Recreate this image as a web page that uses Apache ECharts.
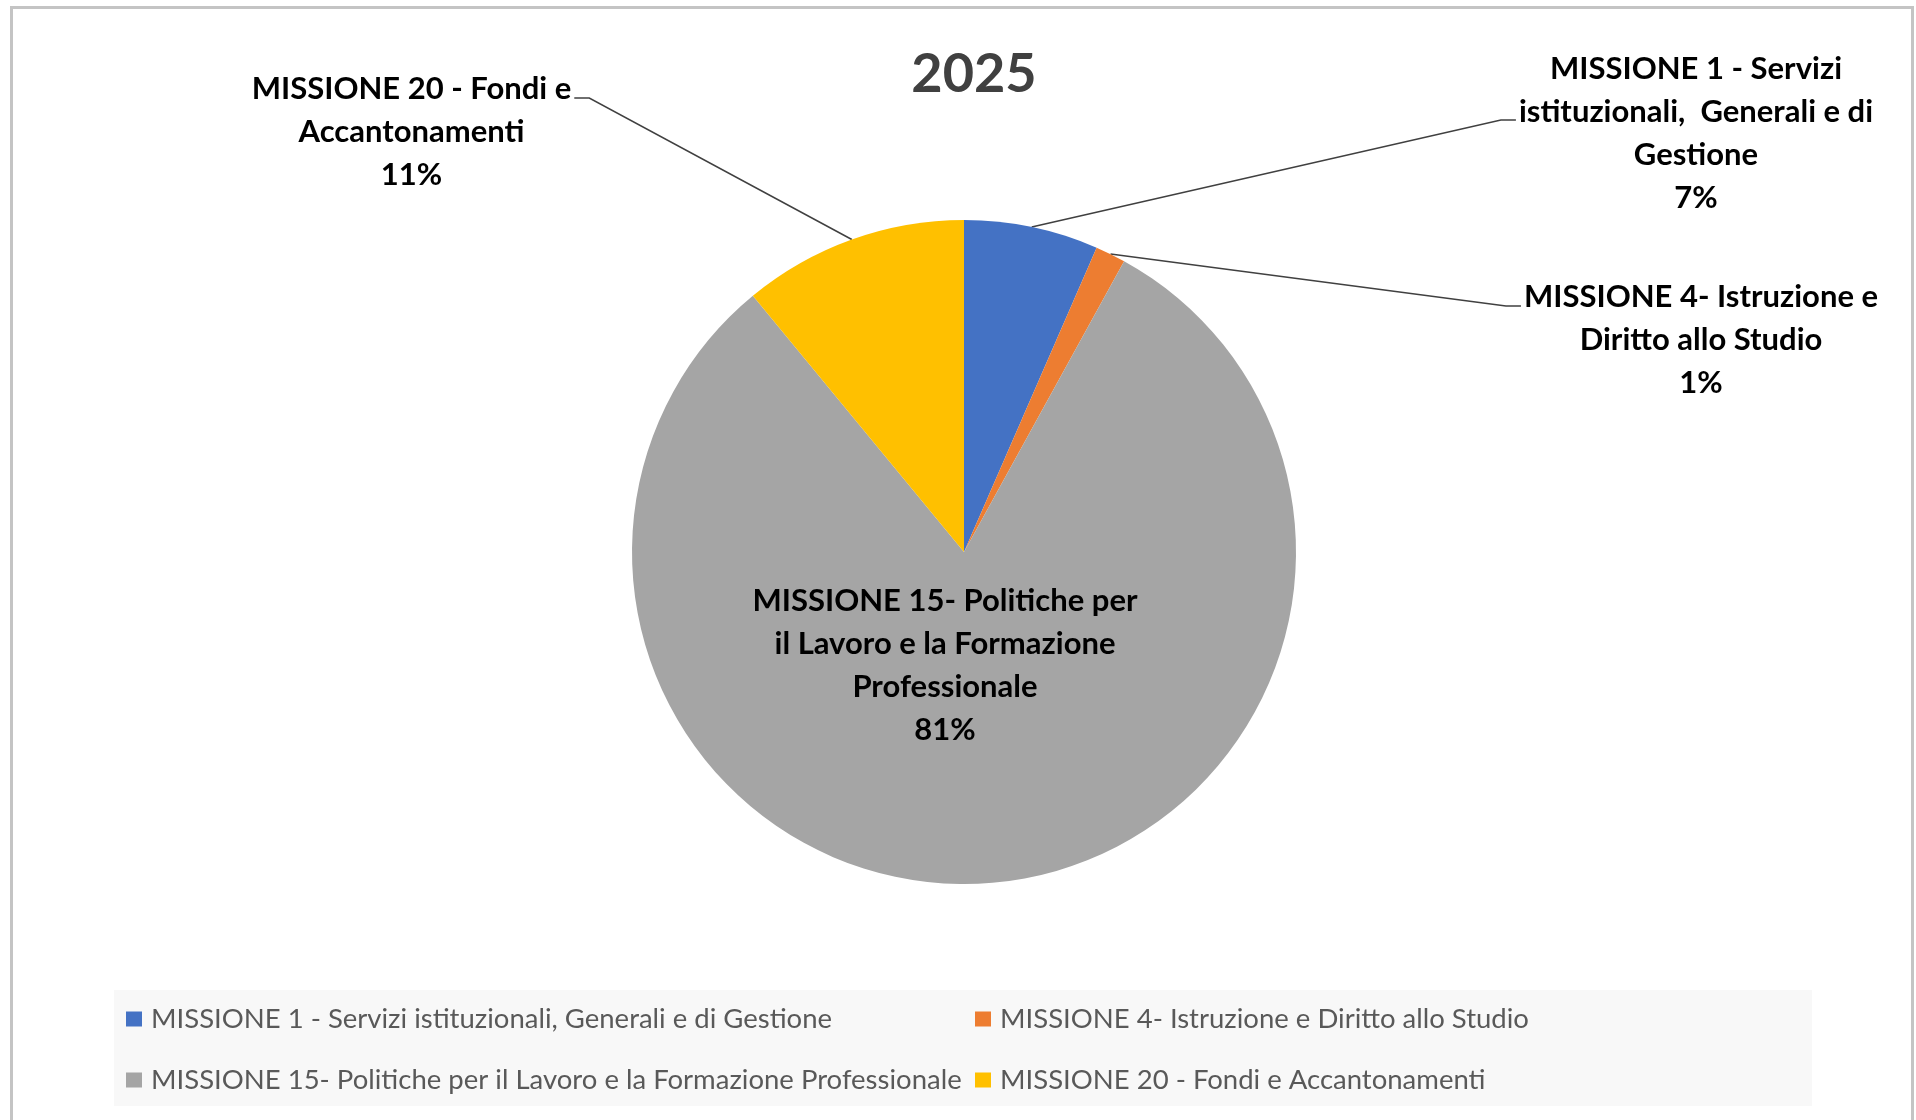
<!DOCTYPE html>
<html><head><meta charset="utf-8">
<script src="https://cdn.jsdelivr.net/npm/echarts@6/dist/echarts.min.js"></script>
<style>html,body{margin:0;padding:0;background:#fff;} #c{width:1916px;height:1120px;}</style>
</head><body><div id="c"></div>
<script>
const titleText = '2025';
const categories = [
  'MISSIONE 1 - Servizi istituzionali, Generali e di Gestione',
  'MISSIONE 4- Istruzione e Diritto allo Studio',
  'MISSIONE 15- Politiche per il Lavoro e la Formazione Professionale',
  'MISSIONE 20 - Fondi e Accantonamenti'
];
const labelTexts = [
  'MISSIONE 1 - Servizi\nistituzionali,  Generali e di\nGestione',
  'MISSIONE 4- Istruzione e\nDiritto allo Studio',
  'MISSIONE 15- Politiche per\nil Lavoro e la Formazione\nProfessionale',
  'MISSIONE 20 - Fondi e\nAccantonamenti'
];
const values = [6.54, 1.47, 81.02, 10.97];
const colors = ['#4472C4', '#ED7D31', '#A5A5A5', '#FFC000'];

// label layout (positions only)
const labelBoxes = [
  { x: 1696, top: 47.5, attach: 72.5, side: 1 },
  { x: 1701, top: 275.5, attach: 30.5, side: 1 },
  { x: 945, top: 579.5 },
  { x: 411.5, top: 67.5, attach: 30.5, side: -1 }
];

const FONT = 'Lato';
const chart = echarts.init(document.getElementById('c'), null, { renderer: 'canvas' });

const pieData = categories.map((name, i) => {
  const d = { name: name, value: values[i], itemStyle: { color: colors[i] } };
  if (i === 2) {
    d.label = { position: 'inside' };
    d.labelLine = { show: false };
  }
  return d;
});

const legendText = { fontFamily: FONT, fontSize: 27.5, lineHeight: 30, color: '#595959', padding: [0, 0, 0, 4] };

chart.setOption({
  backgroundColor: '#ffffff',
  animation: false,
  title: {
    text: titleText,
    left: 969,
    top: 40,
    textAlign: 'center',
    textStyle: { fontFamily: FONT, fontWeight: 'bold', fontSize: 54, lineHeight: 60, color: '#404040' }
  },
  graphic: [
    { type: 'rect', silent: true, z: -10, shape: { x: 11.5, y: 7.5, width: 1901, height: 1130 },
      style: { fill: '#ffffff', stroke: '#c4c4c4', lineWidth: 3 } },
    { type: 'rect', silent: true, z: -5, shape: { x: 114, y: 990, width: 1698, height: 116 },
      style: { fill: '#f8f8f8' } }
  ],
  legend: [
    {
      orient: 'vertical', left: 126, top: 1004, itemGap: 31, padding: 0,
      itemWidth: 16, itemHeight: 15, icon: 'rect',
      data: [categories[0], categories[2]],
      selectedMode: false,
      textStyle: legendText
    },
    {
      orient: 'vertical', left: 975, top: 1004, itemGap: 31, padding: 0,
      itemWidth: 16, itemHeight: 15, icon: 'rect',
      data: [categories[1], categories[3]],
      selectedMode: false,
      textStyle: legendText
    }
  ],
  series: [{
    type: 'pie',
    center: [964, 552],
    radius: 332,
    startAngle: 90,
    clockwise: true,
    percentPrecision: 0,
    avoidLabelOverlap: false,
    silent: true,
    itemStyle: { borderWidth: 0 },
    label: {
      show: true,
      position: 'outside',
      fontFamily: FONT,
      fontWeight: 'bold',
      fontSize: 31,
      lineHeight: 43,
      color: '#000000',
      formatter: p => labelTexts[p.dataIndex] + '\n' + p.percent + '%'
    },
    labelLine: { show: true, length: 20, length2: 15, lineStyle: { color: '#404040', width: 1.5 } },
    labelLayout: function (params) {
      const b = labelBoxes[params.dataIndex];
      const out = { x: b.x, y: b.top, align: 'center', verticalAlign: 'top' };
      if (b.side && params.labelLinePoints) {
        const w = params.labelRect.width;
        const ex = b.x - b.side * (w / 2 + 3);
        const ey = b.top + b.attach;
        out.labelLinePoints = [params.labelLinePoints[0], [ex - b.side * 15, ey], [ex, ey]];
      }
      return out;
    },
    data: pieData
  }]
});
</script>
</body></html>
